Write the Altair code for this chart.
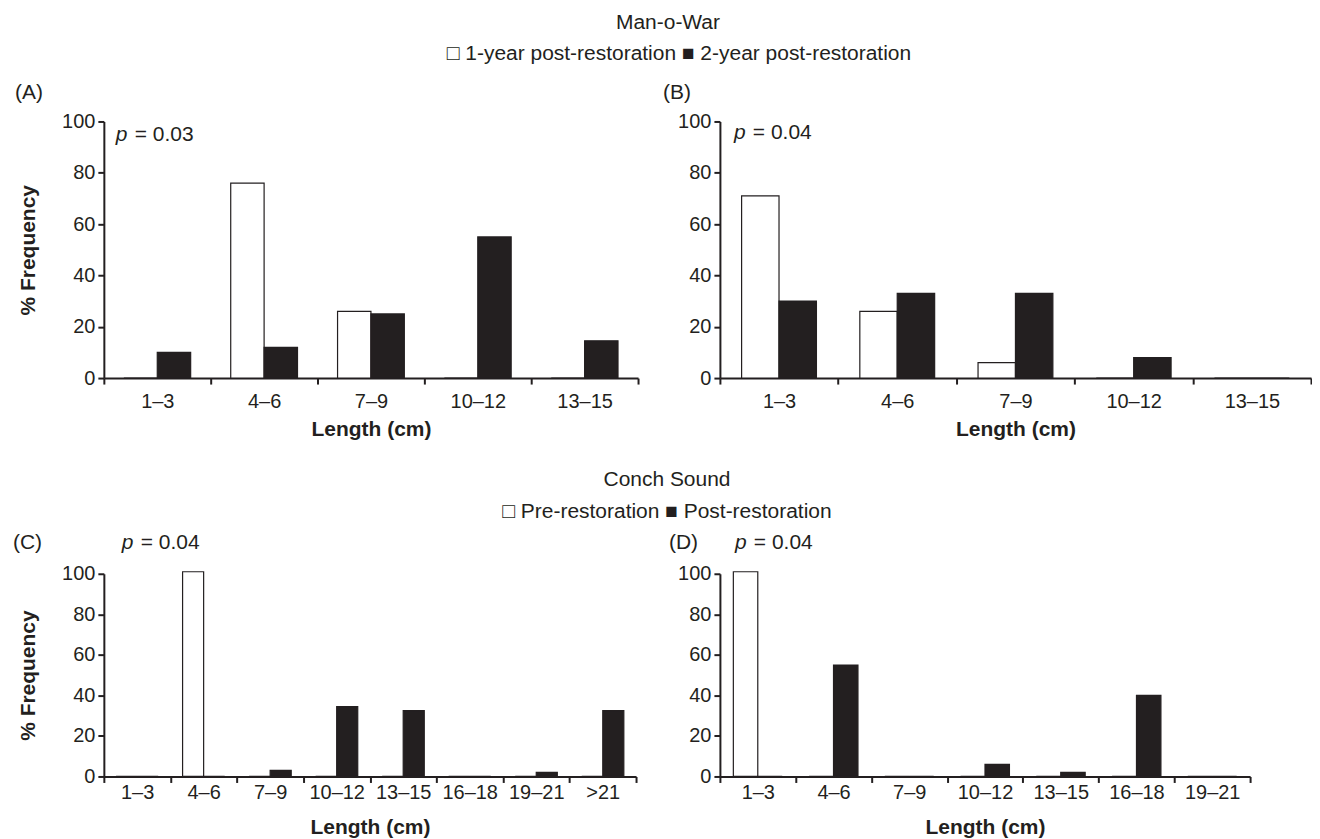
import altair as alt
import pandas as pd

# ---------------- data ----------------
cats_ab = ["1–3", "4–6", "7–9", "10–12", "13–15"]
series_mow = ["1-year post-restoration", "2-year post-restoration"]
a_year1 = [0, 76, 26, 0, 0]
a_year2 = [10, 12, 25, 55, 14.5]
b_year1 = [71, 26, 6, 0, 0]
b_year2 = [30, 33, 33, 8, 0]

cats_c = ["1–3", "4–6", "7–9", "10–12", "13–15", "16–18", "19–21", ">21"]
cats_d = ["1–3", "4–6", "7–9", "10–12", "13–15", "16–18", "19–21"]
series_cs = ["Pre-restoration", "Post-restoration"]
c_pre = [0, 101, 0, 0, 0, 0, 0, 0]
c_post = [0, 0, 3, 34.5, 32.5, 0, 2, 32.5]
d_pre = [101, 0, 0, 0, 0, 0, 0]
d_post = [0, 55, 0, 6, 2, 40, 0]

y_ticks = [0, 20, 40, 60, 80, 100]
p_values = ["= 0.03", "= 0.04", "= 0.04", "= 0.04"]
panel_labels = ["(A)", "(B)", "(C)", "(D)"]
site_titles = ["Man-o-War", "Conch Sound"]

FONT = "Liberation Sans"
INK = "#231f20"
FS = 21      # annotation / title text
TFS = 20     # tick labels


def text_layer(txt, x, y, align="left", weight="normal", style="normal", size=FS):
    return alt.Chart(pd.DataFrame({"t": [txt]})).mark_text(
        font=FONT, fontSize=size, fontWeight=weight, fontStyle=style,
        align=align, baseline="middle", color=INK
    ).encode(text="t:N", x=alt.value(x), y=alt.value(y))


def p_layers(x, y, value):
    return [text_layer("p", x, y, style="italic"), text_layer(value, x + 19, y)]


def panel(cats, s1, s2, names, width, height, po, ytitle, label_pad, title_y, extras):
    df = pd.DataFrame({
        "cat": cats * 2,
        "series": [names[0]] * len(cats) + [names[1]] * len(cats),
        "value": s1 + s2,
    })
    xaxis = alt.Axis(
        title="Length (cm)", labelAngle=0, tickBand="extent",
        tickSize=6, tickWidth=2, domainWidth=2, domainColor=INK, tickColor=INK,
        labelFont=FONT, labelFontSize=TFS, labelColor=INK, labelPadding=label_pad,
        titleFont=FONT, titleFontSize=FS, titleFontWeight="bold", titleColor=INK,
        titleY=title_y, titleBaseline="middle",
    )
    yargs = dict(
        values=y_ticks, tickSize=6, tickWidth=2, domainWidth=2, domainColor=INK,
        tickColor=INK, labelFont=FONT, labelFontSize=TFS, labelColor=INK,
        labelPadding=3, grid=False,
    )
    if ytitle:
        yaxis = alt.Axis(
            title=ytitle, titleFont=FONT, titleFontSize=FS, titleFontWeight="bold",
            titleColor=INK, titleX=-75, titleY=height / 2, titleAngle=-90,
            titleBaseline="middle", titleAlign="center", **yargs)
    else:
        yaxis = alt.Axis(title=None, **yargs)
    bars = alt.Chart(df).mark_bar(stroke=INK, strokeWidth=1.2).encode(
        x=alt.X("cat:N", sort=cats, scale=alt.Scale(paddingInner=0, paddingOuter=0), axis=xaxis),
        xOffset=alt.XOffset("series:N", sort=names,
                            scale=alt.Scale(paddingInner=0, paddingOuter=po)),
        y=alt.Y("value:Q", scale=alt.Scale(domain=[0, 100], nice=False), axis=yaxis),
        color=alt.Color("series:N", sort=names,
                        scale=alt.Scale(domain=names, range=["white", INK]), legend=None),
    ).properties(width=width, height=height)
    return alt.layer(bars, *extras)


legend_mow = "□ " + series_mow[0] + " ■ " + series_mow[1]
legend_cs = "□ " + series_cs[0] + " ■ " + series_cs[1]

A = panel(cats_ab, a_year1, a_year2, series_mow, 535, 257, 0.6, "% Frequency", 7, 52, [
    text_layer(site_titles[0], 565, -99, align="center"),
    text_layer(legend_mow, 576, -68, align="center"),
    text_layer(panel_labels[0], -89, -28),
    *p_layers(12, 14, p_values[0]),
])
B = panel(cats_ab, b_year1, b_year2, series_mow, 592, 257, 0.58, None, 7, 52, [
    text_layer(panel_labels[1], -57, -28),
    *p_layers(14, 12, p_values[1]),
])
C = panel(cats_c, c_pre, c_post, series_cs, 533, 203, 0.58, "% Frequency", 0, 51, [
    text_layer(site_titles[1], 564, -94, align="center"),
    text_layer(legend_cs, 564, -62, align="center"),
    text_layer(panel_labels[2], -91, -31),
    *p_layers(18, -31, p_values[2]),
])
D = panel(cats_d, d_pre, d_post, series_cs, 531, 203, 0.55, None, 0, 51, [
    text_layer(panel_labels[3], -51, -31),
    *p_layers(15, -31, p_values[3]),
])

chart = alt.concat(
    A, B, C, D, columns=2, spacing={"row": 196, "column": 82}, bounds="flush"
).resolve_scale(
    x="independent", y="independent", xOffset="independent", color="independent"
).properties(
    padding={"left": 5, "top": 3, "right": 0, "bottom": 0}, background="white"
).configure_view(strokeWidth=0).configure_axis(grid=False)

chart.save("out.html", embed_options={"renderer": "svg", "actions": False})
